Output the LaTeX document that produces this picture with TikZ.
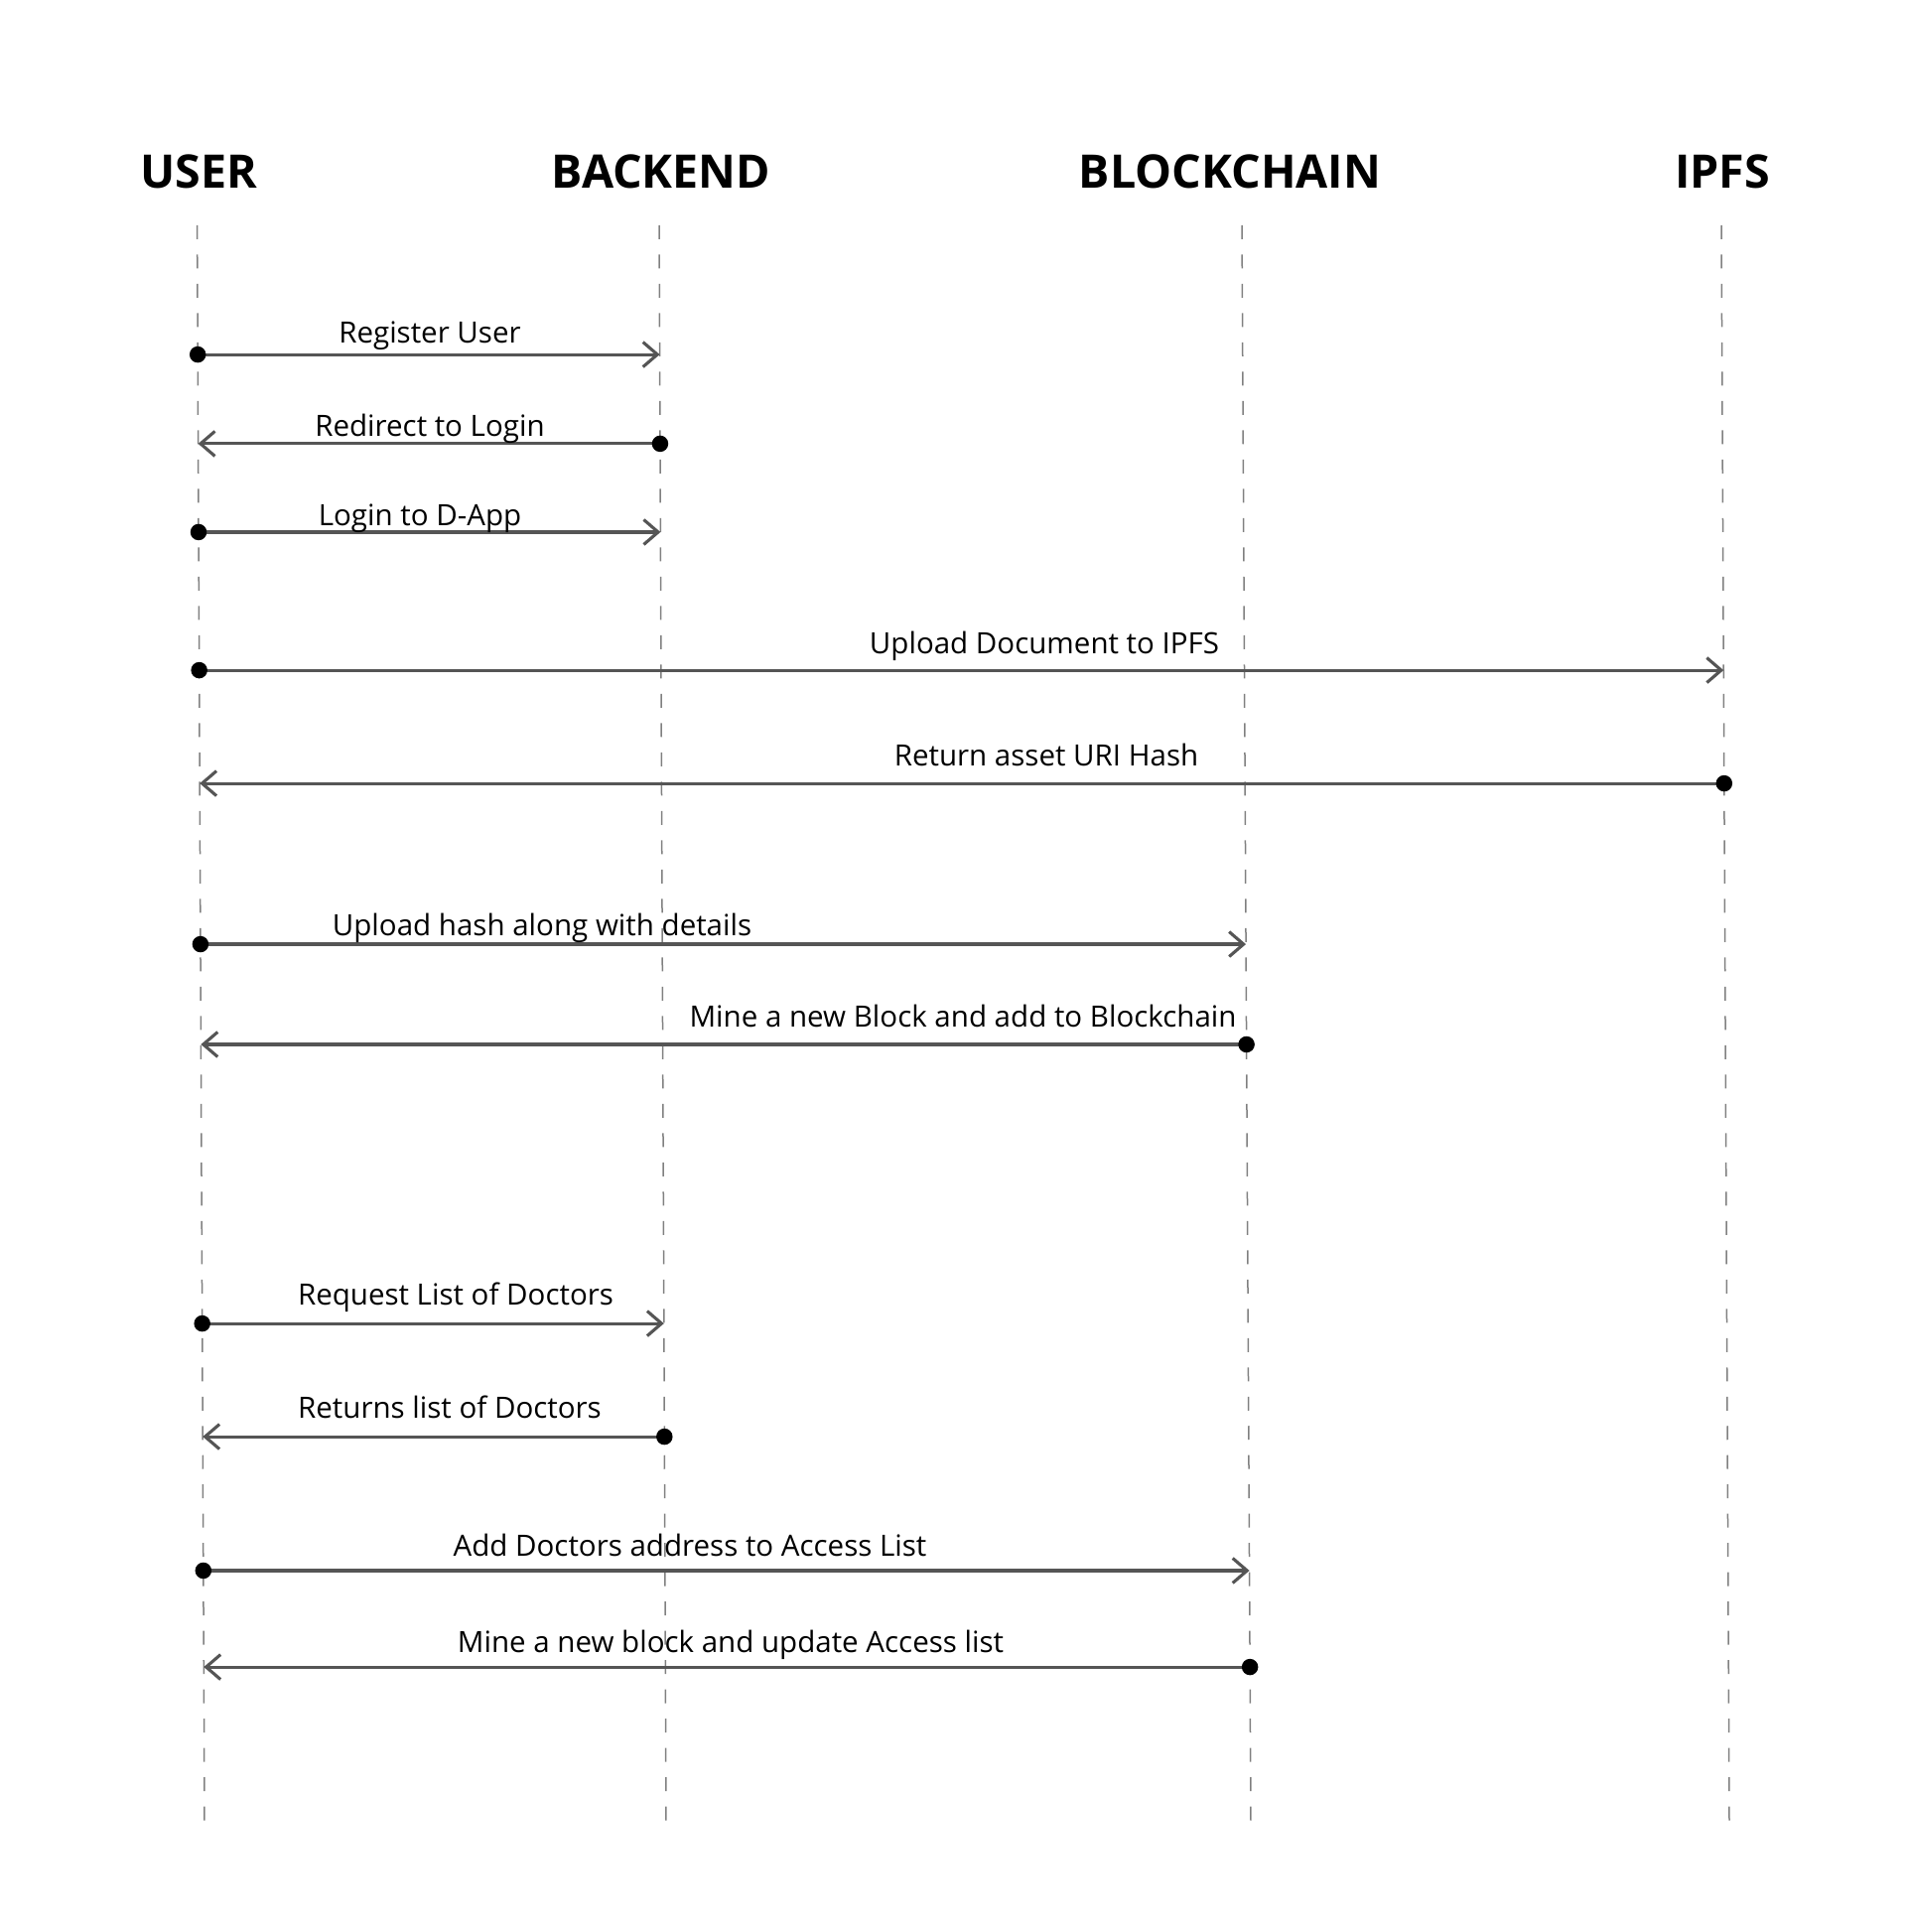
\documentclass[tikz,border=0pt]{standalone}
\usepackage{fontspec}
\setmainfont{Open Sans}
\usetikzlibrary{arrows.meta,calc}
\definecolor{msgcol}{HTML}{555555}
\definecolor{lifecol}{HTML}{808080}
\tikzset{
  header/.style={anchor=base, inner sep=0pt, font=\fontsize{26.5}{30}\selectfont\bfseries},
  msglabel/.style={anchor=base, inner sep=0pt, font=\fontsize{16.8}{20}\selectfont},
  lifeline/.style={draw=lifecol, line width=0.03cm, dash pattern=on 0.28cm off 0.31cm},
  msg/.style={draw=msgcol, line width=0.062cm, -{Straight Barb[length=0.29cm,width=0.5cm]}},
  dot/.style={fill=black},
}
\begin{document}
\begin{tikzpicture}[x=0.02cm, y=-0.02cm]
\useasboundingbox (0,0) rectangle (1920,1946);
% headers
\node[header] (hU) at (200,190) {USER};
\node[header] (hB) at (666,190) {BACKEND};
\node[header] (hC) at (1239,190) {BLOCKCHAIN};
\node[header] (hI) at (1735,190) {IPFS};
% lifelines
\coordinate (Utop) at (198.6,227); \coordinate (Ubot) at (206,1837);
\coordinate (Btop) at (664,227);   \coordinate (Bbot) at (671,1837);
\coordinate (Ctop) at (1251,227);  \coordinate (Cbot) at (1260,1837);
\coordinate (Itop) at (1734,227);  \coordinate (Ibot) at (1742,1837);
\draw[lifeline] (Utop) -- (Ubot);
\draw[lifeline] (Btop) -- (Bbot);
\draw[lifeline] (Ctop) -- (Cbot);
\draw[lifeline] (Itop) -- (Ibot);
% message end points
\foreach \n/\t in {1/0.0808,2/0.1366,3/0.1919,4/0.2783,5/0.3491,6/0.4497,7/0.5124,8/0.6870,9/0.7578,10/0.8416,11/0.9019}{
  \coordinate (u\n) at ($(Utop)!\t!(Ubot)$);
  \coordinate (b\n) at ($(Btop)!\t!(Bbot)$);
  \coordinate (c\n) at ($(Ctop)!\t!(Cbot)$);
  \coordinate (i\n) at ($(Itop)!\t!(Ibot)$);
}
% messages
\draw[msg] (u1) -- (b1);   \fill[dot] (u1) circle (0.165cm);
\draw[msg] (b2) -- (u2);   \fill[dot] (b2) circle (0.165cm);
\draw[msg] (u3) -- (b3);   \fill[dot] (u3) circle (0.165cm);
\draw[msg] (u4) -- (i4);   \fill[dot] (u4) circle (0.165cm);
\draw[msg] (i5) -- (u5);   \fill[dot] (i5) circle (0.165cm);
\draw[msg] (u6) -- (c6);   \fill[dot] (u6) circle (0.165cm);
\draw[msg] (c7) -- (u7);   \fill[dot] (c7) circle (0.165cm);
\draw[msg] (u8) -- (b8);   \fill[dot] (u8) circle (0.165cm);
\draw[msg] (b9) -- (u9);   \fill[dot] (b9) circle (0.165cm);
\draw[msg] (u10) -- (c10); \fill[dot] (u10) circle (0.165cm);
\draw[msg] (c11) -- (u11); \fill[dot] (c11) circle (0.165cm);
% labels
\node[msglabel] (l1) at (433,345) {Register User};
\node[msglabel] (l2) at (433,439) {Redirect to Login};
\node[msglabel] (l3) at (423,529) {Login to D-App};
\node[msglabel] (l4) at (1052,658) {Upload Document to IPFS};
\node[msglabel] (l5) at (1054,771) {Return asset URI Hash};
\node[msglabel] (l6) at (546,942) {Upload hash along with details};
\node[msglabel] (l7) at (970,1034) {Mine a new Block and add to Blockchain};
\node[msglabel] (l8) at (459,1314) {Request List of Doctors};
\node[msglabel] (l9) at (453,1428) {Returns list of Doctors};
\node[msglabel] (l10) at (695,1567) {Add Doctors address to Access List};
\node[msglabel] (l11) at (736,1664) {Mine a new block and update Access list};
\end{tikzpicture}
\end{document}
